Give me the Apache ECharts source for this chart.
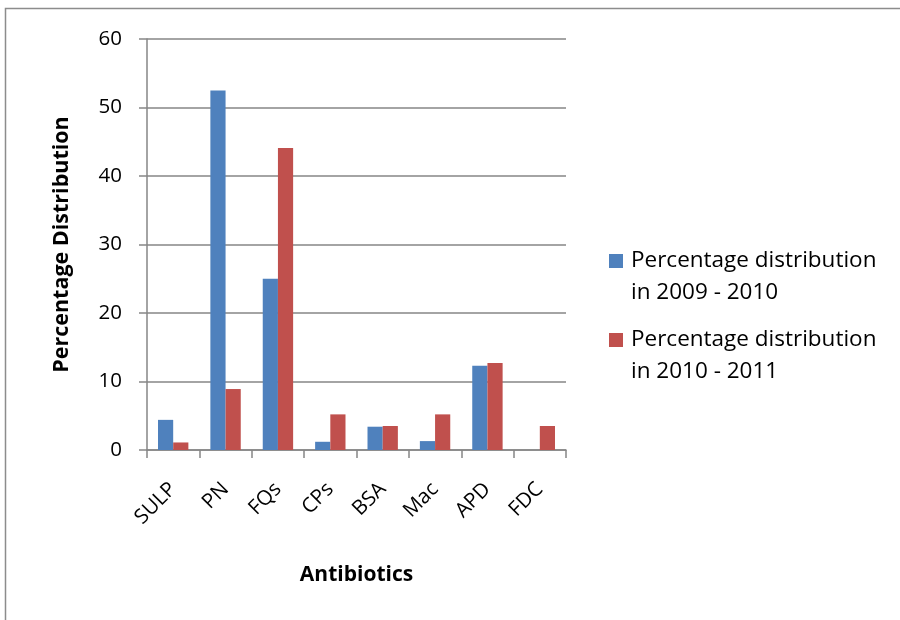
<!DOCTYPE html>
<html>
<head>
<meta charset="utf-8">
<title>Antibiotics percentage distribution</title>
<script src="https://cdn.jsdelivr.net/npm/echarts@6/dist/echarts.min.js"></script>
<style>
  html, body { margin: 0; padding: 0; background: #ffffff; }
  #chart { width: 900px; height: 620px; }
</style>
</head>
<body>
<div id="chart"></div>
<script>
// Antibiotic classes on the category axis
const categories = ['SULP', 'PN', 'FQs', 'CPs', 'BSA', 'Mac', 'APD', 'FDC'];

// Percentage distribution per period
const dist2009 = [4.4, 52.5, 25.0, 1.2, 3.4, 1.3, 12.3, 0];
const dist2010 = [1.1, 8.9, 44.1, 5.2, 3.5, 5.2, 12.7, 3.5];

const seriesNames = [
  'Percentage distribution\nin 2009 - 2010',
  'Percentage distribution\nin 2010 - 2011'
];

const yTicks = { min: 0, max: 60, interval: 10 };

const FONT = '"Open Sans", "Noto Sans", sans-serif';
const GRID_GRAY = '#868686';

// Legend swatch sits beside the first text line of each two-line label
const legendIcon = 'path://M0 9H14V23H0Z M0 0H0.01V0.01H0Z M0 64H0.01V64.01H0Z';

const chart = echarts.init(document.getElementById('chart'), null, { renderer: 'canvas' });

chart.setOption({
  animation: false,
  backgroundColor: '#ffffff',
  textStyle: { fontFamily: FONT, color: '#000' },
  graphic: [{
    type: 'rect',
    shape: { x: 5.5, y: 8.5, width: 1000, height: 1000 },
    style: { fill: 'none', stroke: '#8c8c8c', lineWidth: 1.5 },
    silent: true
  }],
  grid: { left: 147, right: 334, top: 39, bottom: 170, containLabel: false },
  legend: {
    orient: 'vertical',
    left: 604,
    top: 240,
    itemWidth: 14,
    itemHeight: 64,
    itemGap: 15,
    icon: legendIcon,
    selectedMode: false,
    itemStyle: { borderWidth: 0 },
    textStyle: { fontFamily: FONT, fontSize: 22.5, lineHeight: 32, color: '#000', padding: [0, 0, 0, 3] },
    data: seriesNames
  },
  xAxis: {
    type: 'category',
    data: categories,
    name: 'Antibiotics',
    nameLocation: 'middle',
    nameGap: 115,
    nameTextStyle: { fontFamily: FONT, fontSize: 21, fontWeight: 'bold', color: '#000' },
    axisLine: { lineStyle: { color: GRID_GRAY, width: 1.5 } },
    axisTick: { show: true, length: 8, alignWithLabel: false, lineStyle: { color: GRID_GRAY, width: 1.5 } },
    axisLabel: { rotate: 45, fontSize: 20.5, color: '#000', margin: 36, fontFamily: FONT }
  },
  yAxis: {
    type: 'value',
    min: yTicks.min,
    max: yTicks.max,
    interval: yTicks.interval,
    name: 'Percentage Distribution',
    nameLocation: 'middle',
    nameGap: 74,
    nameTextStyle: { fontFamily: FONT, fontSize: 21.5, fontWeight: 'bold', color: '#000' },
    axisLine: { show: true, lineStyle: { color: GRID_GRAY, width: 1.5 } },
    axisTick: { show: true, length: 8, lineStyle: { color: GRID_GRAY, width: 1.5 } },
    axisLabel: { fontSize: 20.5, color: '#000', margin: 25, fontFamily: FONT },
    splitLine: { show: true, lineStyle: { color: GRID_GRAY, width: 1.5 } }
  },
  series: [
    {
      name: seriesNames[0],
      type: 'bar',
      data: dist2009,
      barGap: '0%',
      barCategoryGap: '42%',
      itemStyle: { color: '#4F81BD' }
    },
    {
      name: seriesNames[1],
      type: 'bar',
      data: dist2010,
      barGap: '0%',
      barCategoryGap: '42%',
      itemStyle: { color: '#C0504D' }
    }
  ]
});
</script>
</body>
</html>
